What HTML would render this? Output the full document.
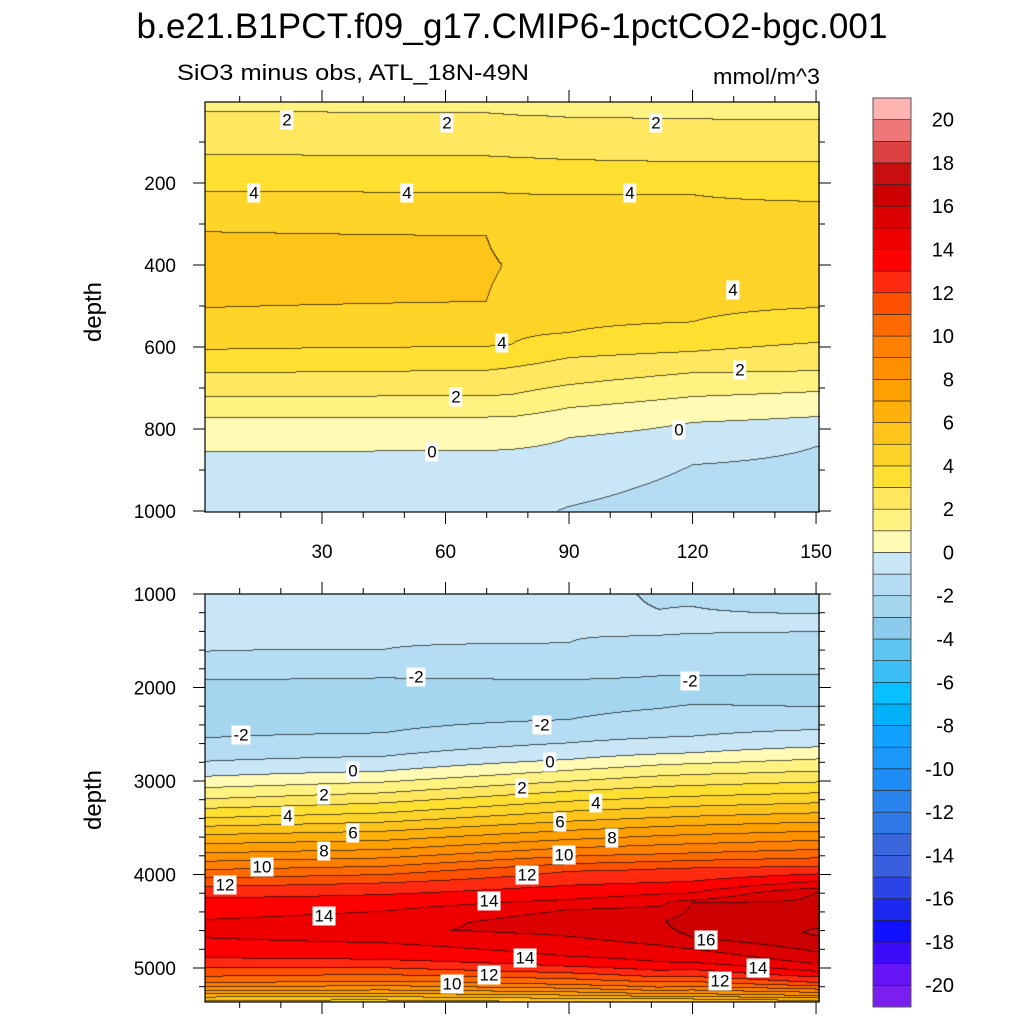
<!DOCTYPE html>
<html><head><meta charset="utf-8">
<style>
html,body{margin:0;padding:0;background:#fff;}
#wrap{position:relative;width:1024px;height:1024px;overflow:hidden;font-family:"Liberation Sans",sans-serif;}
canvas{position:absolute;}
svg{position:absolute;left:0;top:0;}
.lbl{position:absolute;background:#fff;font-size:17px;line-height:17px;padding:1px 2px;transform:translate(-50%,-50%);font-family:"Liberation Sans",sans-serif;}
</style></head>
<body>
<div id="wrap">
<canvas id="cTop" width="615" height="410" style="left:205px;top:102px"></canvas>
<canvas id="cBot" width="615" height="408" style="left:205px;top:594px"></canvas>
<svg id="svg" width="1024" height="1024"></svg>
</div>
<script>
// ---- data: color levels ----
const binColors = ["#7a1ff0","#6414f5","#3c0cfa","#1010ff","#1a28f0","#2a44e8","#3a5ee0","#3a68dc","#2e78e8","#2a84ee","#1e8cf5","#1a98fa","#10a0ff","#00b0f8","#08c0ff","#3cbef5","#5ec4f0","#8ccbee","#a4d6ef","#b4dcf2","#c8e6f5","#fffab4","#fff280","#ffe860","#ffe030","#ffd428","#ffc41a","#ffb00a","#ffa000","#ff9000","#ff7f00","#ff6a00","#ff5000","#ff2a10","#ff0000","#ee0000","#dd0000","#cc0000","#c80e0e","#dc4040","#ee7878","#ffb4b4"];
const cbarLabels = [20,18,16,14,12,10,8,6,4,2,0,-2,-4,-6,-8,-10,-12,-14,-16,-18,-20];
// ---- top panel profiles: [depth, value] ----
const topTimes = [2,70,76,90,120,150];
const topT2 = [[0,1.8],[27,2],[132,3],[222,4],[320,5],[410,5.6],[505,5],[607,4],[664,3],[722,2],[773,1],[856,0],[1000,-0.6]];
const topT70 = [[0,1.8],[30,2],[135,3],[224,4],[330,5],[410,5.2],[490,5],[600,4],[658,3],[720,2],[772,1],[853,0],[1000,-0.7]];
const topT76 = [[0,1.8],[35,2],[138,3],[226,4],[400,4.9],[595,4],[651,3],[717,2],[771,1],[851,0],[1000,-0.8]];
const topT90 = [[0,1.8],[41,2],[144,3],[230,4],[400,4.8],[566,4],[627,3],[693,2],[749,1],[822,0],[990,-1],[1000,-1.05]];
const topT120 = [[0,1.7],[45,2],[150,3],[229,4],[400,4.6],[540,4],[612,3],[664,2],[722,1],[785,0],[888,-1],[1000,-1.45]];
const topT150 = [[0,1.7],[46,2],[149,3],[246,4],[400,4.4],[505,4],[590,3],[659,2],[710,1],[771,0],[844,-1],[1000,-1.6]];
// ---- bottom panel profiles ----
const botTimes = [2,45,90,112,120,150];
const botT2 = [[1000,-0.7],[1617,-1],[1920,-2],[2230,-2.6],[2543,-2],[2793,-1],[2954,0],[3196,2],[3399,4],[3578,6],[3774,8],[3952,10],[4131,12],[4255,13],[4487,14],[4600,14.4],[4683,14],[4896,13],[5003,12],[5093,11],[5164,10],[5250,8],[5365,4.5]];
const botT45 = [[1000,-0.75],[1599,-1],[1902,-2],[2200,-2.5],[2490,-2],[2740,-1],[2900,0],[3132,2],[3346,4],[3542,6],[3738,8],[3917,10],[4095,12],[4219,13],[4398,14],[4600,14.85],[4736,14],[4914,13],[5003,12],[5075,11],[5146,10],[5240,8],[5365,4.5]];
const botT90 = [[1000,-0.85],[1528,-1],[1920,-2],[2150,-2.4],[2348,-2],[2597,-1],[2775,0],[3007,2],[3221,4],[3435,6],[3631,8],[3810,10],[3970,12],[4120,13],[4273,14],[4380,15],[4520,15.6],[4665,15],[4879,14],[4986,13],[5057,12],[5182,10],[5260,8],[5365,5]];
const botT112 = [[1000,-1.05],[1170,-1],[1300,-0.9],[1450,-1],[1880,-2],[2100,-2.3],[2230,-2],[2540,-1],[2715,0],[2950,2],[3180,4],[3395,6],[3590,8],[3785,10],[3945,12],[4090,13],[4215,14],[4345,15],[4500,15.9],[4620,15.8],[4760,15],[4940,14],[5030,13],[5100,12],[5210,10],[5280,8],[5365,5]];
const botT120 = [[1000,-1.1],[1136,-1],[1300,-0.9],[1430,-1],[1875,-2],[2030,-2.3],[2187,-2],[2526,-1],[2704,0],[2936,2],[3168,4],[3382,6],[3578,8],[3774,10],[3935,12],[4077,13],[4202,14],[4280,15],[4305,16],[4500,16.4],[4680,16],[4800,15],[4945,14],[5021,13],[5096,12],[5200,10],[5280,8],[5365,5]];
const botT150 = [[1000,-1.5],[1217,-1],[1310,-0.9],[1410,-1],[1866,-2],[2040,-2.3],[2212,-2],[2455,-1],[2640,0],[2900,2],[3132,4],[3346,6],[3542,8],[3738,10],[3917,12],[4000,13],[4080,14],[4150,15],[4200,16],[4580,17],[4620,17.1],[4660,17],[4830,16],[4960,15],[5040,14],[5100,13],[5160,12],[5230,10],[5300,8],[5365,5.5]];

const topProfiles = [topT2,topT70,topT76,topT90,topT120,topT150];
const botProfiles = [botT2,botT45,botT90,botT112,botT120,botT150];

// ---- axis functions ----
function xOfT(t){return 198.5+4.117*t;}
function tOfX(x){return (x-198.5)/4.117;}
function yTop(d){return 101+d*0.41;}
function dTop(y){return (y-101)/0.41;}
function yBot(d){return 594+(d-1000)*0.0935;}
function dBot(y){return 1000+(y-594)/0.0935;}
function cbY(v){return 98+(21-v)*21.64;}

function prof(p,d){
  if(d<=p[0][0])return p[0][1];
  for(let i=1;i<p.length;i++){if(d<=p[i][0]){const a=p[i-1],b=p[i];return a[1]+(b[1]-a[1])*(d-a[0])/(b[0]-a[0]);}}
  return p[p.length-1][1];
}
function field(times,profiles,t,d){
  if(t<=times[0])return prof(profiles[0],d);
  for(let i=1;i<times.length;i++){if(t<=times[i]){const f=(t-times[i-1])/(times[i]-times[i-1]);return prof(profiles[i-1],d)*(1-f)+prof(profiles[i],d)*f;}}
  return prof(profiles[profiles.length-1],d);
}
function bin(v){let i=Math.floor(v)+21;return Math.max(0,Math.min(41,i));}
function hex(h){return [parseInt(h.substr(1,2),16),parseInt(h.substr(3,2),16),parseInt(h.substr(5,2),16)];}
const rgb=binColors.map(hex);

function drawPanel(id,x0,y0,times,profiles,dOfY){
  const c=document.getElementById(id),ctx=c.getContext('2d');
  const W=c.width,H=c.height,img=ctx.createImageData(W,H);
  const B=new Int16Array(W*H);
  for(let j=0;j<H;j++){const d=dOfY(y0+j+0.5);for(let i=0;i<W;i++){B[j*W+i]=bin(field(times,profiles,tOfX(x0+i+0.5),d));}}
  for(let j=0;j<H;j++)for(let i=0;i<W;i++){
    const k=j*W+i,b=B[k];let col=rgb[b];
    const line=(i<W-1&&B[k+1]!==b)||(j<H-1&&B[k+W]!==b);
    const o=k*4;
    if(line){img.data[o]=col[0]*0.35;img.data[o+1]=col[1]*0.35;img.data[o+2]=col[2]*0.35;}
    else{img.data[o]=col[0];img.data[o+1]=col[1];img.data[o+2]=col[2];}
    img.data[o+3]=255;
  }
  ctx.putImageData(img,0,0);
}
drawPanel('cTop',205,102,topTimes,topProfiles,dTop);
drawPanel('cBot',205,594,botTimes,botProfiles,dBot);

// ---- SVG axes ----
const NS="http://www.w3.org/2000/svg",svg=document.getElementById('svg');
function el(tag,attrs,parent){const e=document.createElementNS(NS,tag);for(const k in attrs)e.setAttribute(k,attrs[k]);(parent||svg).appendChild(e);return e;}
function txt(s,x,y,size,anchor,name){const t=el('text',{x:x,y:y,'font-size':size,'text-anchor':anchor||'middle','font-family':'Liberation Sans, sans-serif',fill:'#000'});t.textContent=s;


return t;}
function ln(x1,y1,x2,y2,w){return el('line',{x1:x1,y1:y1,x2:x2,y2:y2,stroke:'#000','stroke-width':w||1});}

const title=txt('b.e21.B1PCT.f09_g17.CMIP6-1pctCO2-bgc.001',512,38,35,'middle','chart-title');
title.setAttribute('textLength','751');
const sub=txt('SiO3 minus obs, ATL_18N-49N',177,80,22,'start','subtitle');
sub.setAttribute('textLength','352');
sub.setAttribute('lengthAdjust','spacingAndGlyphs');
const un=txt('mmol/m^3',820,84,22,'end','units-label');
un.setAttribute('textLength','107');
un.setAttribute('lengthAdjust','spacingAndGlyphs');

const xTicksMajor=[30,60,90,120,150];
const xTicksMinor=[10,20,40,50,70,80,100,110,130,140];
function frame(top,bot,name){
  const r=el('rect',{x:205,y:top,width:614,height:bot-top,fill:'none',stroke:'#000','stroke-width':1.2});
  
  
  xTicksMajor.forEach(t=>{const x=xOfT(t);ln(x,top,x,top-12);ln(x,bot,x,bot+12);});
  xTicksMinor.forEach(t=>{const x=xOfT(t);ln(x,top,x,top-6);ln(x,bot,x,bot+6);});
}
frame(102,512,'top-panel-frame');
frame(594,1002,'bottom-panel-frame');
const topYMajor=[200,400,600,800,1000];
const topYMinor=[100,300,500,700,900];
topYMajor.forEach(d=>{const y=yTop(d);ln(193,y,205,y);ln(819,y,831,y);txt(String(d),176,y+7,19,'end','y-tick-top');});
topYMinor.forEach(d=>{const y=yTop(d);ln(199,y,205,y);ln(819,y,825,y);});
xTicksMajor.forEach(t=>txt(String(t),xOfT(t),558,19,'middle','x-tick-label'));
const botYMajor=[1000,2000,3000,4000,5000];
const botYMinor=[1200,1400,1600,1800,2200,2400,2600,2800,3200,3400,3600,3800,4200,4400,4600,4800,5200];
botYMajor.forEach(d=>{const y=yBot(d);ln(193,y,205,y);ln(819,y,831,y);txt(String(d),176,y+7,19,'end','y-tick-bottom');});
botYMinor.forEach(d=>{const y=yBot(d);ln(199,y,205,y);ln(819,y,825,y);});
const yt1=txt('depth',0,0,24,'middle','y-axis-title-top');yt1.setAttribute('transform','translate(101,312) rotate(-90)');
const yt2=txt('depth',0,0,24,'middle','y-axis-title-bottom');yt2.setAttribute('transform','translate(101,800) rotate(-90)');

for(let i=0;i<42;i++){
  const r=el('rect',{x:873,y:98+(41-i)*21.64,width:38,height:21.64,fill:binColors[i],stroke:'#222','stroke-width':0.6});
  
  
}
el('rect',{x:873,y:98,width:38,height:909,fill:'none',stroke:'#555','stroke-width':1});
cbarLabels.forEach(v=>txt(String(v),954,cbY(v)+7,20,'end','colorbar-label'));

const labels=[
 ['2',287,120],['2',447,123],['2',656,123],['4',254,193],['4',407,193],['4',630,193],['4',733,290],['4',502,343],['2',740,370],['2',456,397],['0',679,430],['0',432,452],
 ['-2',416,677],['-2',690,681],['-2',542,725],['-2',241,735],['0',353,771],['0',550,762],['2',324,795],['2',522,788],['4',288,816],['4',596,803],['6',353,833],['6',560,822],['8',324,851],['8',612,838],['10',262,867],['10',564,855],['12',225,885],['12',527,875],['14',324,916],['14',489,901],['16',706,940],['14',525,958],['14',758,968],['12',489,975],['12',720,981],['10',452,984]
];
const wrap=document.getElementById('wrap');
labels.forEach(l=>{const d=document.createElement('div');d.className='lbl';d.textContent=l[0];d.style.left=l[1]+'px';d.style.top=l[2]+'px';


wrap.appendChild(d);});
</script>
</body></html>
